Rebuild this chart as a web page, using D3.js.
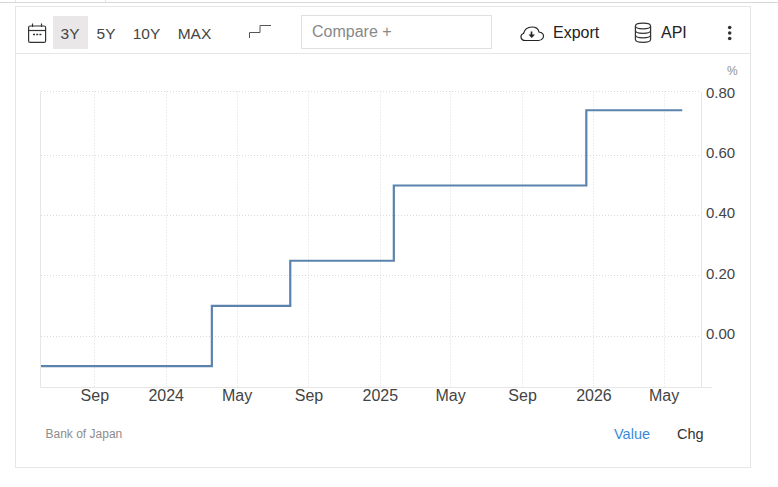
<!DOCTYPE html>
<html>
<head>
<meta charset="utf-8">
<script src="https://cdn.jsdelivr.net/npm/d3@7/dist/d3.min.js"></script>
<style>
html,body{margin:0;padding:0;background:#fff}
svg{display:block}
text{font-family:"Liberation Sans",Arial,sans-serif}
</style>
</head>
<body>
<svg id="chart" width="778" height="487"></svg>
<script>
// Policy rate steps: date each level took effect, level in percent
const stepDates = ["2023-06-01","2024-03-19","2024-07-31","2025-01-24","2025-12-19","2026-06-01"];
const stepRates = [-0.10,0.10,0.25,0.50,0.75,0.75];
const rateTicks = [0,0.2,0.4,0.6,0.8];
const monthTicks = ["2023-09-01","2024-01-01","2024-05-01","2024-09-01","2025-01-01","2025-05-01","2025-09-01","2026-01-01","2026-05-01"];
const rangeButtons = ["3Y","5Y","10Y","MAX"];
const sourceName = "Bank of Japan";

const parse = d3.utcParse("%Y-%m-%d");
const points = stepDates.map((d,i)=>({date:parse(d),rate:stepRates[i]}));
const tickDates = monthTicks.map(parse);

const svg = d3.select("#chart");

// Page furniture behind the card
svg.append("line").attr("x1",0).attr("x2",778).attr("y1",2.5).attr("y2",2.5).attr("stroke","#d8d8d8");
svg.append("line").attr("x1",15.5).attr("x2",15.5).attr("y1",0).attr("y2",2).attr("stroke","#e4e4e4");
svg.append("line").attr("x1",105.5).attr("x2",105.5).attr("y1",0).attr("y2",2).attr("stroke","#e4e4e4");

// Card and toolbar
svg.append("rect").attr("x",15.5).attr("y",6.5).attr("width",735).attr("height",461)
  .attr("fill","#fff").attr("stroke","#e6e6e6");
svg.append("line").attr("x1",16).attr("x2",750).attr("y1",53.5).attr("y2",53.5).attr("stroke","#e6e6e6");

// Plot bounds
const plotLeft = 41, plotRight = 701, plotTop = 91.5, plotBottom = 387.5;

// Scales
const x = d3.scaleUtc().domain([parse("2023-06-01"),parse("2026-07-03")]).range([plotLeft,plotRight]);
const y = d3.scaleLinear().domain([0,0.8]).range([336,95.2]);
const snap = v => Math.floor(v)+0.5;

// Grid
const grid = svg.append("g").attr("fill","none").attr("stroke","#dcdcdc").attr("stroke-dasharray","1 2");
grid.selectAll(".gy").data(rateTicks.slice(0,-1)).join("line").attr("class","gy")
  .attr("x1",plotLeft).attr("x2",plotRight)
  .attr("y1",d=>snap(y(d))).attr("y2",d=>snap(y(d)));
grid.append("line").attr("x1",plotLeft).attr("x2",plotRight).attr("y1",plotTop).attr("y2",plotTop);
grid.selectAll(".gx").data(tickDates).join("line").attr("class","gx")
  .attr("x1",d=>snap(x(d))).attr("x2",d=>snap(x(d)))
  .attr("y1",plotTop).attr("y2",plotBottom);

// Axis frame
const frame = svg.append("g").attr("stroke","#e6e6e6");
frame.append("line").attr("x1",plotLeft-0.5).attr("x2",plotLeft-0.5).attr("y1",plotTop).attr("y2",plotBottom);
frame.append("line").attr("x1",plotRight+0.5).attr("x2",plotRight+0.5).attr("y1",plotTop).attr("y2",plotBottom);
frame.append("line").attr("x1",plotLeft-0.5).attr("x2",712).attr("y1",plotBottom).attr("y2",plotBottom);

// Step line
const line = d3.line().x(d=>x(d.date)).y(d=>y(d.rate)).curve(d3.curveStepAfter);
svg.append("path").datum(points).attr("d",line).attr("fill","none")
  .attr("stroke","#5b83ad").attr("stroke-width",2.2);

// Axes: labels only, the frame and grid above carry the rules
const fmtTick = t => t.getUTCMonth()===0 ? d3.utcFormat("%Y")(t) : d3.utcFormat("%b")(t);
const xAxis = svg.append("g").attr("transform",`translate(0,${plotBottom})`)
  .call(d3.axisBottom(x).tickValues(tickDates).tickFormat(fmtTick).tickSize(0).tickPadding(0).offset(0));
xAxis.select(".domain").remove();
xAxis.selectAll("text").attr("y",13.5).attr("dy",0).attr("font-size",16).attr("font-family",null).attr("fill","#444");
const yAxis = svg.append("g").attr("transform","translate(706,0)")
  .call(d3.axisRight(y).tickValues(rateTicks).tickFormat(d3.format(".2f")).tickSize(0).tickPadding(0).offset(0));
yAxis.select(".domain").remove();
yAxis.selectAll("text").attr("dy",2.8).attr("font-size",15).attr("fill","#444");
svg.append("text").attr("x",727).attr("y",75).attr("font-size",12).attr("fill","#909090").text("%");

// Footer
svg.append("text").attr("x",45.5).attr("y",438).attr("font-size",12).attr("fill","#8c8c8c").text(sourceName);
svg.append("text").attr("x",614).attr("y",438.5).attr("font-size",14.5).attr("fill","#3b8ad9").text("Value");
svg.append("text").attr("x",677).attr("y",438.5).attr("font-size",14.5).attr("fill","#333").text("Chg");

// Toolbar: range buttons
svg.append("rect").attr("x",53).attr("y",16).attr("width",35).attr("height",33).attr("fill","#e9e7e7");
const btnX = [70,106,146.5,194.5];
svg.append("g").selectAll("text").data(rangeButtons).join("text")
  .attr("x",(d,i)=>btnX[i]).attr("y",39).attr("text-anchor","middle")
  .attr("font-size",15.5).attr("fill","#444").text(d=>d);

// Toolbar: calendar icon
const cal = svg.append("g").attr("fill","none").attr("stroke","#333").attr("stroke-width",1.2);
cal.append("rect").attr("x",28.6).attr("y",26).attr("width",17).attr("height",16.4).attr("rx",1.5);
cal.append("line").attr("x1",28.6).attr("x2",45.6).attr("y1",30.5).attr("y2",30.5);
cal.append("line").attr("x1",32.5).attr("x2",32.5).attr("y1",23.5).attr("y2",27);
cal.append("line").attr("x1",41.5).attr("x2",41.5).attr("y1",23.5).attr("y2",27);
cal.append("path").attr("d","M33 34.5h2M36.2 34.5h2M39.4 34.5h2").attr("stroke-width",1.4);

// Toolbar: step-line icon
svg.append("path").attr("d","M249.5 38V32.5H260V25.5H271").attr("fill","none").attr("stroke","#555").attr("stroke-width",1);

// Toolbar: compare box
svg.append("rect").attr("x",301.5).attr("y",15.5).attr("width",190).attr("height",33).attr("fill","#fff").attr("stroke","#e0e0e0");
svg.append("text").attr("x",312).attr("y",36.5).attr("font-size",16).attr("fill","#888").text("Compare +");

// Toolbar: export
const cloud = svg.append("g").attr("fill","none").attr("stroke","#222").attr("stroke-width",1.2);
cloud.append("path").attr("d","M525 40.5C520.5 40.5 519.5 35 523.5 33.5C524.5 29.5 528 27 532 27C536 27 538.5 29.5 539 32C543 32.5 544.5 35.5 543 38C542 39.8 541 40.5 538.5 40.5Z");
cloud.append("path").attr("d","M531.5 31.5V35").attr("stroke-width",1.6);
svg.append("path").attr("d","M528.5 34.5H535L531.7 38Z").attr("fill","#222");
svg.append("text").attr("x",553).attr("y",38).attr("font-size",16).attr("fill","#222").text("Export");

// Toolbar: API
const db = svg.append("g").attr("fill","none").attr("stroke","#333").attr("stroke-width",1.2);
db.append("ellipse").attr("cx",643).attr("cy",26).attr("rx",7.6).attr("ry",2.8);
db.append("path").attr("d","M635.4 26V39.5C635.4 41.2 639 42.3 643 42.3C647 42.3 650.6 41.2 650.6 39.5V26");
db.append("path").attr("d","M635.4 30.5C635.4 32.2 639 33.3 643 33.3C647 33.3 650.6 32.2 650.6 30.5");
db.append("path").attr("d","M635.4 35C635.4 36.7 639 37.8 643 37.8C647 37.8 650.6 36.7 650.6 35");
svg.append("text").attr("x",661).attr("y",38).attr("font-size",16).attr("fill","#222").text("API");

// Toolbar: overflow menu
svg.append("g").selectAll("circle").data([27.5,33,38.5]).join("circle")
  .attr("cx",729.7).attr("cy",d=>d).attr("r",1.8).attr("fill","#333");
</script>
</body>
</html>
